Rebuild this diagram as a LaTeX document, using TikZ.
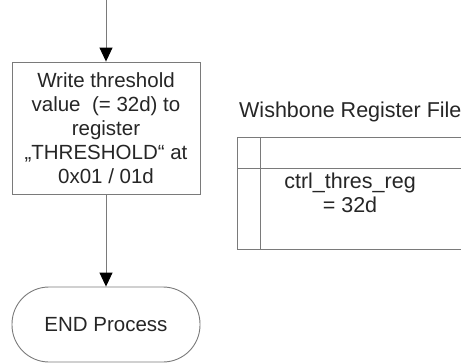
\documentclass[tikz,border=0pt]{standalone}
\usepackage{fontspec}
\setmainfont{Liberation Sans}
\usetikzlibrary{arrows.meta}
\definecolor{linegray}{HTML}{7A7A7A}
\begin{document}
\begin{tikzpicture}[x=1pt, y=-1pt,
        every node/.style={font=\fontsize{20.5}{24}\selectfont, text=black!85},
        flow/.style={draw=linegray, line width=0.9pt, -{Triangle[length=14pt, width=13pt, color=black]}},
        regline/.style={draw=linegray, line width=0.9pt}]
    \clip (0,0) rectangle (461,364);
    \fill[white] (0,0) rectangle (461,364);

    % flow on the left
    \coordinate (start) at (106,0);
    \node[draw=linegray, line width=0.9pt, minimum width=188pt, minimum height=132pt,
          inner sep=0pt, align=center] (write) at (106,128)
        {Write threshold\\value\ \ (= 32d) to\\register\\„THRESHOLD“ at\\0x01 / 01d};
    \node[draw=linegray, line width=0.9pt, minimum width=188pt, minimum height=75pt,
          rounded corners=37pt] (end) at (106,324.5) {END Process};
    \draw[flow] (start) -- (write.north);
    \draw[flow] (write.south) -- (end.north);

    % register file
    \node[anchor=west, inner sep=0pt, font=\fontsize{21.5}{24}\selectfont] (title) at (239,112) {Wishbone Register File};
    \coordinate (rf-tl) at (237,137);
    \coordinate (rf-br) at (480,249);
    \draw[regline] (rf-tl) rectangle (rf-br);
    \draw[regline] (260,137) -- (260,249);
    \draw[regline] (237,168) -- (480,168);
    \node[align=center, inner sep=0pt, font=\fontsize{21.5}{24}\selectfont] (reg) at (350,193) {ctrl\_thres\_reg\\= 32d};
\end{tikzpicture}
\end{document}
